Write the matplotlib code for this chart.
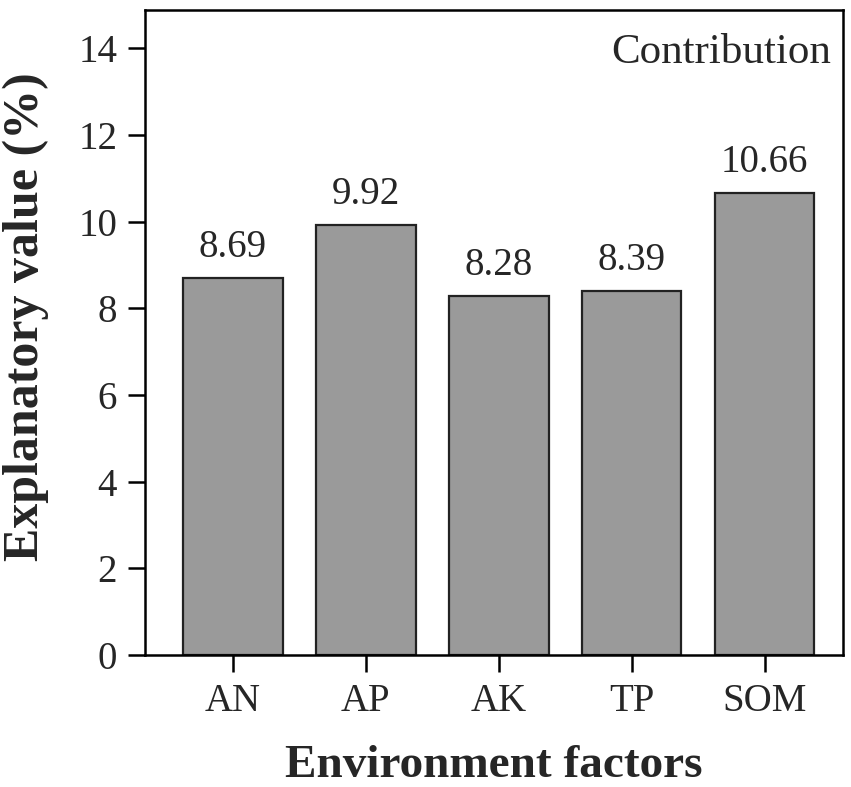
import matplotlib
matplotlib.use("Agg")
import matplotlib.pyplot as plt

factors = ["AN", "AP", "AK", "TP", "SOM"]
values = [8.69, 9.92, 8.28, 8.39, 10.66]

plt.rcParams["font.family"] = ["Liberation Serif", "DejaVu Serif"]
txt = "#262626"

fig = plt.figure(figsize=(8.51, 7.87), dpi=100)
ax = fig.add_axes([145 / 851, 1 - 655 / 787, (843 - 145) / 851, (655 - 10) / 787])

x = range(len(factors))
ax.bar(x, values, width=0.75, color="#9a9a9a", edgecolor="#222222", linewidth=1.6)
for xi, v in zip(x, values):
    ax.text(xi, v + 0.28, f"{v:.2f}", ha="center", va="bottom", fontsize=28, color=txt)

ax.set_xlim(-0.66, 4.59)
ax.set_ylim(0, 14.88)
ax.set_yticks(range(0, 15, 2))
ax.set_xticks(list(x))
ax.set_xticklabels(factors)
ax.tick_params(axis="both", labelsize=28, labelcolor=txt, direction="out",
               length=12, width=1.8, pad=8)
for s in ax.spines.values():
    s.set_linewidth(1.8)

ax.set_xlabel("Environment factors", fontsize=34, fontweight="bold", color=txt,
              va="baseline")
ax.xaxis.set_label_coords(0.5, -0.189)
ax.set_ylabel("Explanatory value (%)", fontsize=36, fontweight="bold", color=txt)
ax.yaxis.set_label_coords(-0.137, 0.524)
ax.text(0.983, 0.918, "Contribution", transform=ax.transAxes, ha="right",
        va="baseline", fontsize=31, color=txt)

fig.savefig("out.png", dpi=100)
